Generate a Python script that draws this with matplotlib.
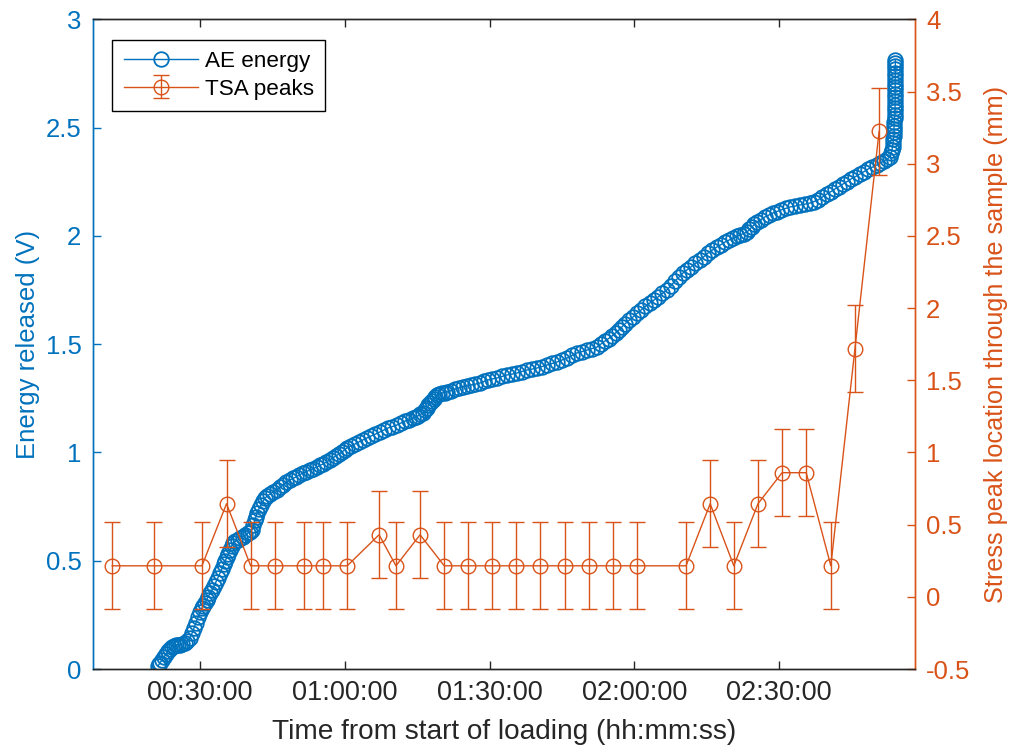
import matplotlib
matplotlib.use("Agg")
import matplotlib.pyplot as plt
from matplotlib.ticker import FuncFormatter, MultipleLocator

# Cumulative acoustic-emission energy: time (minutes from start of loading)
ae_time = [
    21.30, 21.50, 21.71, 22.12, 22.54, 22.95, 23.37, 23.78, 24.20, 24.61,
    25.03, 25.44, 25.86, 26.37, 26.89, 27.41, 27.93, 28.35, 28.76, 29.17,
    29.59, 30.00, 30.41, 30.72, 31.04, 31.35, 31.66, 32.07, 32.49, 32.90,
    33.31, 33.72, 34.14, 34.55, 34.97, 35.28, 35.59, 35.90, 36.22, 36.53,
    36.84, 37.35, 37.87, 38.39, 38.91, 39.42, 39.94, 40.35, 40.77, 41.08,
    41.39, 41.60, 41.81, 42.22, 42.64, 43.05, 43.47, 43.98, 44.50, 45.22,
    45.95, 46.57, 47.20, 47.92, 48.65, 49.27, 49.89, 50.61, 51.34, 52.06,
    52.79, 53.51, 54.24, 54.86, 55.48, 56.20, 56.93, 57.55, 58.18, 58.80,
    59.42, 59.94, 60.46, 61.28, 62.11, 62.94, 63.77, 64.60, 65.43, 66.36,
    67.29, 68.12, 68.95, 69.88, 70.81, 71.64, 72.47, 73.30, 74.13, 74.65,
    75.17, 75.68, 76.20, 76.62, 77.03, 77.34, 77.65, 78.06, 78.48, 78.79,
    79.10, 79.62, 80.14, 80.66, 81.17, 82.00, 82.83, 83.66, 84.49, 85.32,
    86.15, 87.08, 88.01, 88.84, 89.67, 90.60, 91.53, 92.57, 93.60, 94.64,
    95.68, 96.72, 97.75, 98.79, 99.82, 100.86, 101.89, 102.93, 103.96, 105.00,
    106.04, 107.08, 108.11, 109.15, 110.18, 111.22, 112.25, 113.08, 113.91, 114.64,
    115.36, 116.09, 116.81, 117.43, 118.05, 118.88, 119.71, 120.54, 121.37, 122.30,
    123.23, 124.06, 124.89, 125.82, 126.75, 127.58, 128.41, 129.24, 130.07, 130.90,
    131.73, 132.66, 133.59, 134.42, 135.25, 136.18, 137.11, 137.94, 138.77, 139.60,
    140.43, 141.16, 141.88, 142.61, 143.33, 143.85, 144.36, 144.88, 145.40, 146.23,
    147.06, 147.89, 148.71, 149.54, 150.37, 151.31, 152.24, 153.28, 154.31, 155.35,
    156.38, 157.21, 158.04, 158.97, 159.90, 160.73, 161.56, 162.39, 163.22, 164.05,
    164.87, 165.81, 166.74, 167.57, 168.40, 169.33, 170.26, 170.99, 171.71, 172.33,
    172.95, 173.16, 173.37, 173.48, 173.58, 173.68, 173.78, 173.79, 173.79, 173.80,
    173.80, 173.90, 173.99, 174.00, 174.00, 174.01, 174.01, 174.02, 174.02, 174.03,
    174.03, 174.04, 174.04, 174.05, 174.05, 174.06, 174.06, 174.07, 174.07,
]
# Cumulative acoustic-emission energy (V)
ae_energy = [
    0.014, 0.021, 0.028, 0.041, 0.055, 0.069, 0.083, 0.093, 0.102, 0.107,
    0.111, 0.112, 0.111, 0.115, 0.120, 0.130, 0.143, 0.165, 0.189, 0.214,
    0.240, 0.262, 0.282, 0.293, 0.305, 0.319, 0.333, 0.349, 0.365, 0.383,
    0.402, 0.422, 0.443, 0.464, 0.485, 0.501, 0.517, 0.533, 0.550, 0.566,
    0.582, 0.590, 0.596, 0.603, 0.610, 0.619, 0.628, 0.635, 0.642, 0.665,
    0.688, 0.704, 0.721, 0.740, 0.758, 0.774, 0.790, 0.800, 0.808, 0.818,
    0.827, 0.839, 0.850, 0.862, 0.873, 0.880, 0.887, 0.896, 0.905, 0.912,
    0.919, 0.926, 0.933, 0.940, 0.947, 0.956, 0.965, 0.975, 0.984, 0.993,
    1.002, 1.012, 1.021, 1.030, 1.039, 1.049, 1.058, 1.067, 1.076, 1.085,
    1.095, 1.104, 1.113, 1.120, 1.127, 1.136, 1.145, 1.152, 1.159, 1.164,
    1.169, 1.176, 1.182, 1.194, 1.206, 1.218, 1.229, 1.238, 1.247, 1.257,
    1.266, 1.271, 1.275, 1.277, 1.279, 1.286, 1.293, 1.298, 1.303, 1.307,
    1.312, 1.316, 1.321, 1.328, 1.335, 1.340, 1.344, 1.351, 1.358, 1.362,
    1.367, 1.374, 1.381, 1.385, 1.390, 1.397, 1.404, 1.411, 1.418, 1.427,
    1.436, 1.448, 1.460, 1.466, 1.473, 1.480, 1.487, 1.501, 1.515, 1.526,
    1.538, 1.552, 1.566, 1.580, 1.594, 1.610, 1.626, 1.642, 1.658, 1.675,
    1.691, 1.704, 1.718, 1.735, 1.751, 1.771, 1.792, 1.810, 1.829, 1.843,
    1.857, 1.873, 1.889, 1.905, 1.921, 1.935, 1.949, 1.960, 1.972, 1.981,
    1.991, 1.998, 2.005, 2.011, 2.018, 2.030, 2.042, 2.053, 2.065, 2.076,
    2.088, 2.097, 2.106, 2.113, 2.120, 2.127, 2.134, 2.138, 2.143, 2.147,
    2.152, 2.159, 2.166, 2.180, 2.194, 2.205, 2.217, 2.228, 2.240, 2.251,
    2.263, 2.274, 2.286, 2.297, 2.309, 2.318, 2.328, 2.337, 2.346, 2.355,
    2.365, 2.381, 2.397, 2.413, 2.430, 2.446, 2.462, 2.478, 2.494, 2.510,
    2.527, 2.543, 2.559, 2.575, 2.591, 2.607, 2.624, 2.640, 2.656, 2.672,
    2.688, 2.704, 2.721, 2.737, 2.753, 2.769, 2.785, 2.800, 2.813,
]

# Thermoelastic stress analysis: peak location (mm) with its uncertainty
tsa_time = [
    11.8, 20.5, 30.4, 35.5, 40.5, 45.5, 51.5, 55.5, 60.5, 67.1,
    70.6, 75.6, 80.6, 85.5, 90.5, 95.5, 100.4, 105.6, 110.6, 115.6,
    120.5, 130.7, 135.7, 140.6, 145.6, 150.6, 155.6, 160.7, 165.7, 170.7,
]
tsa_peak = [
    0.215, 0.215, 0.215, 0.645, 0.215, 0.215, 0.215, 0.215, 0.215, 0.430,
    0.215, 0.430, 0.215, 0.215, 0.215, 0.215, 0.215, 0.215, 0.215, 0.215,
    0.215, 0.215, 0.645, 0.215, 0.645, 0.860, 0.860, 0.215, 1.720, 3.225,
]
tsa_err = [0.3] * len(tsa_peak)

x_ticks = [30, 60, 90, 120, 150]

BLUE = "#0072BD"
ORANGE = "#D95319"
DARK = "#262626"

plt.rcParams["font.family"] = ["Liberation Sans", "DejaVu Sans"]

fig = plt.figure(figsize=(10.11, 7.48), dpi=100)
ax1 = fig.add_axes([0.0915, 0.1056, 0.8135, 0.8684])
ax2 = ax1.twinx()

ae_line, = ax1.plot(ae_time, ae_energy, color=BLUE, lw=1.0, marker="o",
                    markersize=10.5, markerfacecolor="none", markeredgewidth=1.3,
                    label="AE energy")
tsa = ax2.errorbar(tsa_time, tsa_peak, yerr=tsa_err, color=ORANGE, lw=1.0,
                   marker="o", markersize=10.5, markerfacecolor="none",
                   markeredgewidth=1.0, capsize=5.6, capthick=1.0, elinewidth=1.0,
                   label="TSA peaks")

ax1.set_xlim(7.73, 178.13)
ax1.set_ylim(0, 3)
ax2.set_ylim(-0.5, 4)

ax1.set_xticks(x_ticks)
ax1.xaxis.set_major_formatter(FuncFormatter(
    lambda m, _: f"{int(m // 60):02d}:{int(m % 60):02d}:00"))
ax1.yaxis.set_major_locator(MultipleLocator(0.5))
ax2.yaxis.set_major_locator(MultipleLocator(0.5))
ax1.yaxis.set_major_formatter(FuncFormatter(lambda v, _: f"{v:g}"))
ax2.yaxis.set_major_formatter(FuncFormatter(lambda v, _: f"{v:g}"))

ax1.tick_params(axis="x", direction="in", length=6, width=1, colors=DARK,
                labelsize=19.5, pad=8, top=True)
ax1.tick_params(axis="y", direction="in", length=6, width=1, colors=BLUE,
                labelsize=18.5, pad=8)
ax2.tick_params(axis="y", direction="in", length=6, width=1, colors=ORANGE,
                labelsize=18.5, pad=8)

for ax in (ax1, ax2):
    ax.spines["top"].set_color(DARK)
    ax.spines["bottom"].set_color(DARK)
    ax.spines["left"].set_color(BLUE)
    ax.spines["right"].set_color(ORANGE)
    for s in ax.spines.values():
        s.set_linewidth(1.0)

ax1.set_xlabel("Time from start of loading (hh:mm:ss)", fontsize=20.2,
               color=DARK, labelpad=9)
ax1.set_ylabel("Energy released (V)", fontsize=18.5, color=BLUE, labelpad=4)
ax2.set_ylabel("Stress peak location through the sample (mm)", fontsize=18.2,
               color=ORANGE, labelpad=10)

leg = ax2.legend([ae_line, tsa], ["AE energy", "TSA peaks"], loc="upper left",
                 bbox_to_anchor=(0.0243, 0.969), borderaxespad=0,
                 fontsize=16.2, frameon=True, fancybox=False, framealpha=1,
                 edgecolor="black", handlelength=3.3, labelspacing=0.3,
                 borderpad=0.5, handletextpad=0.3)
leg.get_frame().set_linewidth(1.0)

fig.savefig("out.png", dpi=100)
